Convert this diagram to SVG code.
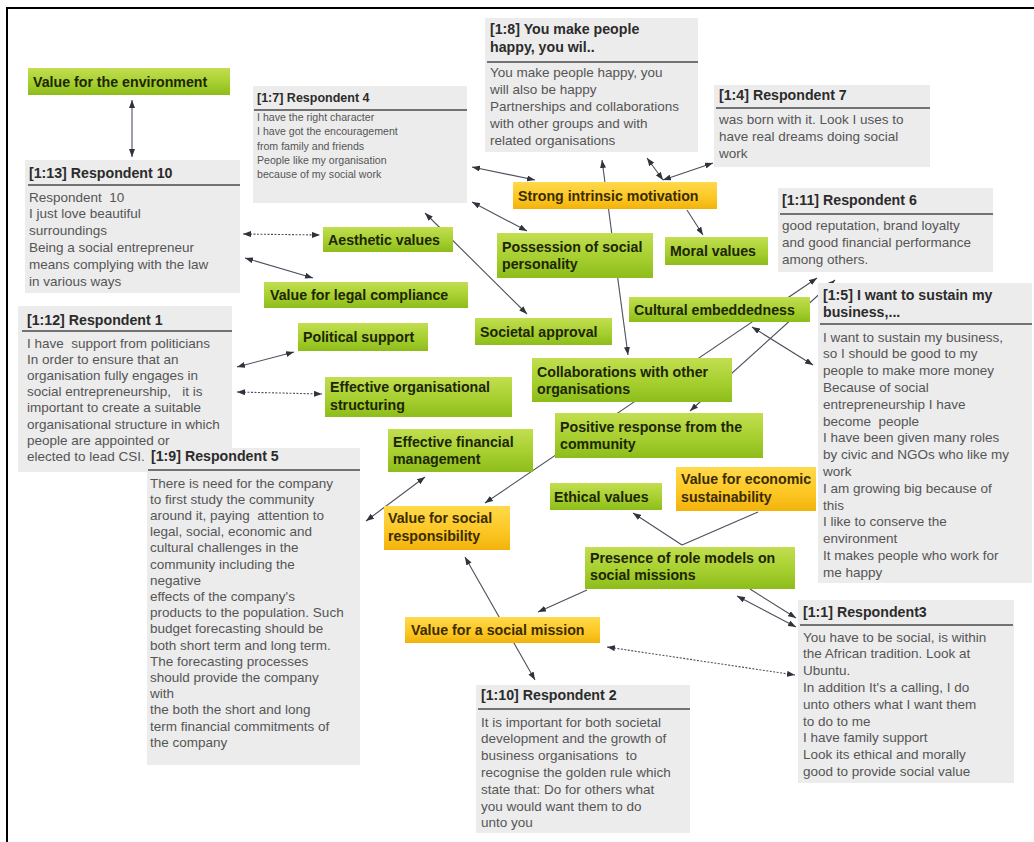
<svg xmlns="http://www.w3.org/2000/svg" width="1034" height="842" viewBox="0 0 1034 842">
<defs>
<linearGradient id="gg" x1="0" y1="0" x2="0" y2="1"><stop offset="0" stop-color="#c2de50"/><stop offset="0.55" stop-color="#a6cf2f"/><stop offset="1" stop-color="#8dbd1b"/></linearGradient>
<linearGradient id="og" x1="0" y1="0" x2="0" y2="1"><stop offset="0" stop-color="#ffd94c"/><stop offset="0.6" stop-color="#fcc622"/><stop offset="1" stop-color="#f2b20c"/></linearGradient>
<marker id="ah" viewBox="0 0 8 6" refX="8" refY="3" markerWidth="8" markerHeight="6" markerUnits="userSpaceOnUse" orient="auto-start-reverse"><path d="M0,0 L8,3 L0,6 z" fill="#2f333b"/></marker>
</defs>
<style>
.lbl text{font-family:"Liberation Sans",Arial,sans-serif;font-weight:bold;font-size:14.2px;fill:#1d2604}
.o text{fill:#3a2c00}
.g rect{fill:url(#gg)}
.o rect{fill:url(#og)}
.q rect{fill:#ececec}
.q .h{font-family:"Liberation Sans",Arial,sans-serif;font-weight:bold;font-size:14.2px;fill:#2b2b2b}
.q .b{font-family:"Liberation Sans",Arial,sans-serif;font-size:13.5px;fill:#555}
.q .hs{font-size:12.5px}
.q .bs{font-size:10.6px}
.q line{stroke:#4a4a4a;stroke-width:1.5}
#connectors line{stroke:#4b505c;stroke-width:1.1;fill:none}
#connectors .bo{marker-start:url(#ah);marker-end:url(#ah)}
#connectors .en{marker-end:url(#ah)}
#connectors .dt{stroke-dasharray:2 1.5}
</style>
<rect x="0" y="0" width="1034" height="842" fill="#ffffff"/>
<path d="M7,842 V8 H1034" fill="none" stroke="#000" stroke-width="2"/>

<g id="connectors">
<line class="bo" x1="132" y1="100" x2="132" y2="157"/>
<line class="bo dt" x1="243" y1="234" x2="320" y2="235"/>
<line class="bo" x1="245" y1="258" x2="313" y2="278"/>
<line class="bo" x1="237" y1="367" x2="294" y2="352"/>
<line class="bo dt" x1="237" y1="392" x2="322" y2="394"/>
<line class="bo" x1="472" y1="167" x2="535" y2="180"/>
<line class="bo" x1="472" y1="202" x2="527" y2="231"/>
<line class="bo" x1="425" y1="213" x2="527" y2="314"/>
<line class="bo" x1="602" y1="160" x2="628" y2="355"/>
<line class="bo" x1="647" y1="158" x2="663" y2="180"/>
<line class="bo" x1="663" y1="180" x2="713" y2="163"/>
<line class="en" x1="687" y1="210" x2="703" y2="235"/>
<line class="bo" x1="817" y1="278" x2="485" y2="503"/>
<line class="bo" x1="835" y1="280" x2="690" y2="411"/>
<line class="bo" x1="752" y1="327" x2="813" y2="365"/>
<line class="bo" x1="425" y1="477" x2="366" y2="521"/>
<line class="bo" x1="465" y1="557" x2="535" y2="680"/>
<line class="en" x1="587" y1="590" x2="538" y2="612"/>
<line class="en" x1="682" y1="545" x2="633" y2="513"/>
<line x1="682" y1="545" x2="758" y2="512"/>
<line class="bo" x1="737" y1="596" x2="796" y2="627"/>
<line class="en" x1="750" y1="589" x2="796" y2="618"/>
<line class="bo dt" x1="607" y1="647" x2="795" y2="675"/>
</g>

<g id="q-r10" class="q">
<rect x="25" y="160" width="215" height="133"/>
<text class="h" x="29" y="178">[1:13] Respondent 10</text>
<line x1="28" y1="185" x2="240" y2="185"/>
<text class="b" xml:space="preserve"><tspan x="29" y="201.5">Respondent  10</tspan><tspan x="29" y="218.3">I just love beautiful</tspan><tspan x="29" y="235.1">surroundings</tspan><tspan x="29" y="251.9">Being a social entrepreneur</tspan><tspan x="29" y="268.7">means complying with the law</tspan><tspan x="29" y="285.5">in various ways</tspan></text>
</g>

<g id="q-r4" class="q">
<rect x="253" y="86" width="214" height="117"/>
<text class="h hs" x="257" y="102">[1:7] Respondent 4</text>
<line x1="254" y1="110" x2="467" y2="110"/>
<text class="b bs"><tspan x="257" y="121">I have the right character</tspan><tspan x="257" y="135.3">I have got the encouragement</tspan><tspan x="257" y="149.6">from family and friends</tspan><tspan x="257" y="163.9">People like my organisation</tspan><tspan x="257" y="178.2">because of my social work</tspan></text>
</g>

<g id="q-r8" class="q">
<rect x="485" y="18" width="213" height="134"/>
<text class="h"><tspan x="490" y="34">[1:8] You make people</tspan><tspan x="490" y="52">happy, you wil..</tspan></text>
<line x1="487" y1="62" x2="698" y2="62"/>
<text class="b"><tspan x="490" y="76.5">You make people happy, you</tspan><tspan x="490" y="93.5">will also be happy</tspan><tspan x="490" y="110.5">Partnerships and collaborations</tspan><tspan x="490" y="127.5">with other groups and with</tspan><tspan x="490" y="144.5">related organisations</tspan></text>
</g>

<g id="q-r7" class="q">
<rect x="714" y="85" width="216" height="82"/>
<text class="h" x="719" y="100">[1:4] Respondent 7</text>
<line x1="716" y1="108" x2="930" y2="108"/>
<text class="b"><tspan x="719" y="123.5">was born with it. Look I uses to</tspan><tspan x="719" y="140.5">have real dreams doing social</tspan><tspan x="719" y="157.5">work</tspan></text>
</g>

<g id="q-r6" class="q">
<rect x="778" y="188" width="215" height="84"/>
<text class="h" x="782" y="205">[1:11] Respondent 6</text>
<line x1="780" y1="214" x2="993" y2="214"/>
<text class="b"><tspan x="782" y="229.5">good reputation, brand loyalty</tspan><tspan x="782" y="246.5">and good financial performance</tspan><tspan x="782" y="263.5">among others.</tspan></text>
</g>

<g id="q-r5b" class="q">
<rect x="818" y="283" width="214" height="300"/>
<text class="h"><tspan x="823" y="300">[1:5] I want to sustain my</tspan><tspan x="823" y="317">business,...</tspan></text>
<line x1="820" y1="324" x2="1032" y2="324"/>
<text class="b" xml:space="preserve"><tspan x="823" y="341.5">I want to sustain my business,</tspan><tspan x="823" y="358.3">so I should be good to my</tspan><tspan x="823" y="375.1">people to make more money</tspan><tspan x="823" y="391.9">Because of social</tspan><tspan x="823" y="408.7">entrepreneurship I have</tspan><tspan x="823" y="425.5">become  people</tspan><tspan x="823" y="442.3">I have been given many roles</tspan><tspan x="823" y="459.1">by civic and NGOs who like my</tspan><tspan x="823" y="475.9">work</tspan><tspan x="823" y="492.7">I am growing big because of</tspan><tspan x="823" y="509.5">this</tspan><tspan x="823" y="526.3">I like to conserve the</tspan><tspan x="823" y="543.1">environment</tspan><tspan x="823" y="559.9">It makes people who work for</tspan><tspan x="823" y="576.7">me happy</tspan></text>
</g>

<g id="q-r1" class="q">
<rect x="18" y="306" width="214" height="166"/>
<text class="h" x="27" y="325">[1:12] Respondent 1</text>
<line x1="22" y1="331" x2="232" y2="331"/>
<text class="b" xml:space="preserve"><tspan x="27" y="347.5">I have  support from politicians</tspan><tspan x="27" y="363.7">In order to ensure that an</tspan><tspan x="27" y="379.9">organisation fully engages in</tspan><tspan x="27" y="396.1">social entrepreneurship,   it is</tspan><tspan x="27" y="412.3">important to create a suitable</tspan><tspan x="27" y="428.5">organisational structure in which</tspan><tspan x="27" y="444.7">people are appointed or</tspan><tspan x="27" y="460.9">elected to lead CSI.</tspan></text>
</g>

<g id="q-r5" class="q">
<rect x="147" y="448" width="213" height="317"/>
<text class="h" x="151" y="461">[1:9] Respondent 5</text>
<line x1="148" y1="470" x2="360" y2="470"/>
<text class="b" xml:space="preserve"><tspan x="150" y="487.5">There is need for the company</tspan><tspan x="150" y="503.7">to first study the community</tspan><tspan x="150" y="519.9">around it, paying  attention to</tspan><tspan x="150" y="536.1">legal, social, economic and</tspan><tspan x="150" y="552.3">cultural challenges in the</tspan><tspan x="150" y="568.5">community including the</tspan><tspan x="150" y="584.7">negative</tspan><tspan x="150" y="600.9">effects of the company's</tspan><tspan x="150" y="617.1">products to the population. Such</tspan><tspan x="150" y="633.3">budget forecasting should be</tspan><tspan x="150" y="649.5">both short term and long term.</tspan><tspan x="150" y="665.7">The forecasting processes</tspan><tspan x="150" y="681.9">should provide the company</tspan><tspan x="150" y="698.1">with</tspan><tspan x="150" y="714.3">the both the short and long</tspan><tspan x="150" y="730.5">term financial commitments of</tspan><tspan x="150" y="746.7">the company</tspan></text>
</g>

<g id="q-r2" class="q">
<rect x="476" y="685" width="214" height="148"/>
<text class="h" x="481" y="700">[1:10] Respondent 2</text>
<line x1="478" y1="709" x2="690" y2="709"/>
<text class="b" xml:space="preserve"><tspan x="481" y="726.5">It is important for both societal</tspan><tspan x="481" y="743.3">development and the growth of</tspan><tspan x="481" y="760.1">business organisations  to</tspan><tspan x="481" y="776.9">recognise the golden rule which</tspan><tspan x="481" y="793.7">state that: Do for others what</tspan><tspan x="481" y="810.5">you would want them to do</tspan><tspan x="481" y="827.3">unto you</tspan></text>
</g>

<g id="q-r3" class="q">
<rect x="798" y="600" width="216" height="183"/>
<text class="h" x="803" y="617">[1:1] Respondent3</text>
<line x1="800" y1="625" x2="1013" y2="625"/>
<text class="b"><tspan x="803" y="641.5">You have to be social, is within</tspan><tspan x="803" y="658.3">the African tradition. Look at</tspan><tspan x="803" y="675.1">Ubuntu.</tspan><tspan x="803" y="691.9">In addition It's a calling, I do</tspan><tspan x="803" y="708.7">unto others what I want them</tspan><tspan x="803" y="725.5">to do to me</tspan><tspan x="803" y="742.3">I have family support</tspan><tspan x="803" y="759.1">Look its ethical and morally</tspan><tspan x="803" y="775.9">good to provide social value</tspan></text>
</g>

<g id="n-environment" class="lbl g"><rect x="28" y="68" width="202" height="27"/><text x="33" y="86.5">Value for the environment</text></g>
<g id="n-aesthetic" class="lbl g"><rect x="323" y="227" width="130" height="25"/><text x="328" y="244.5">Aesthetic values</text></g>
<g id="n-legal" class="lbl g"><rect x="264" y="282" width="204" height="26"/><text x="270" y="300">Value for legal compliance</text></g>
<g id="n-political" class="lbl g"><rect x="298" y="323" width="130" height="28"/><text x="303" y="342">Political support</text></g>
<g id="n-structuring" class="lbl g"><rect x="325" y="377" width="187" height="40"/><text><tspan x="330" y="392">Effective organisational</tspan><tspan x="330" y="410">structuring</tspan></text></g>
<g id="n-societal" class="lbl g"><rect x="475" y="318" width="137" height="27"/><text x="480" y="336.5">Societal approval</text></g>
<g id="n-collab" class="lbl g"><rect x="532" y="358" width="200" height="44"/><text><tspan x="537" y="376.5">Collaborations with other</tspan><tspan x="537" y="393.5">organisations</tspan></text></g>
<g id="n-possession" class="lbl g"><rect x="497" y="233" width="156" height="45"/><text><tspan x="502" y="252">Possession of social</tspan><tspan x="502" y="269">personality</tspan></text></g>
<g id="n-intrinsic" class="lbl o"><rect x="513" y="182" width="204" height="27"/><text x="518" y="200.5">Strong intrinsic motivation</text></g>
<g id="n-moral" class="lbl g"><rect x="665" y="237" width="103" height="28"/><text x="670" y="256">Moral values</text></g>
<g id="n-cultural" class="lbl g"><rect x="629" y="297" width="181" height="25"/><text x="634" y="314.5">Cultural embeddedness</text></g>
<g id="n-positive" class="lbl g"><rect x="555" y="413" width="208" height="45"/><text><tspan x="560" y="432">Positive response from the</tspan><tspan x="560" y="449">community</tspan></text></g>
<g id="n-financial" class="lbl g"><rect x="388" y="429" width="145" height="43"/><text><tspan x="393" y="447">Effective financial</tspan><tspan x="393" y="464">management</tspan></text></g>
<g id="n-socresp" class="lbl o"><rect x="384" y="506" width="126" height="44"/><text><tspan x="388" y="523">Value for social</tspan><tspan x="388" y="541">responsibility</tspan></text></g>
<g id="n-ethical" class="lbl g"><rect x="550" y="483" width="112" height="27"/><text x="554" y="501.5">Ethical values</text></g>
<g id="n-economic" class="lbl o"><rect x="676" y="467" width="140" height="44"/><text><tspan x="681" y="484">Value for economic</tspan><tspan x="681" y="502">sustainability</tspan></text></g>
<g id="n-rolemodels" class="lbl g"><rect x="585" y="547" width="210" height="42"/><text><tspan x="590" y="563">Presence of role models on</tspan><tspan x="590" y="580">social missions</tspan></text></g>
<g id="n-mission" class="lbl o"><rect x="405" y="617" width="195" height="26"/><text x="411" y="635">Value for a social mission</text></g>
</svg>
